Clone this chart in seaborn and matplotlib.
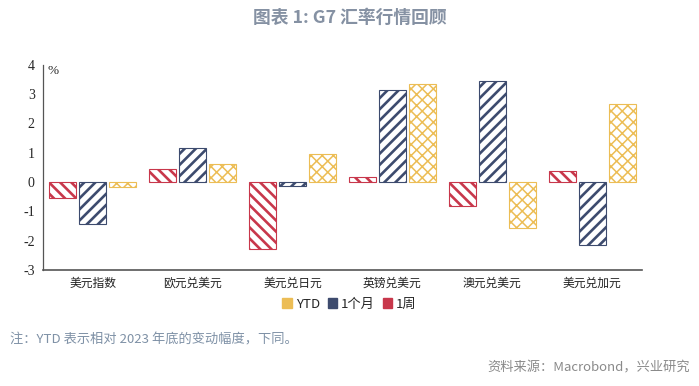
import numpy as np
import pandas as pd
import matplotlib
matplotlib.use("Agg")
import matplotlib.pyplot as plt
from matplotlib.patches import Patch
import seaborn as sns

categories = ["美元指数", "欧元兑美元", "美元兑日元", "英镑兑美元", "澳元兑美元", "美元兑加元"]
week = [-0.53, 0.43, -2.27, 0.18, -0.83, 0.37]
month = [-1.44, 1.17, -0.14, 3.14, 3.46, -2.15]
ytd = [-0.17, 0.60, 0.96, 3.33, -1.55, 2.68]
periods = ["1周", "1个月", "YTD"]
colors = {"1周": "#c8374b", "1个月": "#3d4b6e", "YTD": "#ecbd55"}
hatches = {"1周": "\\\\\\", "1个月": "///", "YTD": "xxx"}

df = pd.DataFrame({
    "cat": categories * 3,
    "period": ["1周"] * 6 + ["1个月"] * 6 + ["YTD"] * 6,
    "value": week + month + ytd,
})

sns.set_style("white")
plt.rcParams["font.family"] = ["Noto Sans CJK SC", "DejaVu Sans"]
plt.rcParams["hatch.linewidth"] = 1.9

fig = plt.figure(figsize=(6.99, 3.86), dpi=100)
ax = fig.add_axes([0.0615, 0.3005, 0.857, 0.5315])

sns.barplot(data=df, x="cat", y="value", hue="period", hue_order=periods,
            palette=colors, width=0.9, gap=0.1, errorbar=None, ax=ax,
            legend=False)

for cont, p in zip(ax.containers, periods):
    for bar in cont:
        bar.set_facecolor("white")
        bar.set_edgecolor(colors[p])
        bar.set_linewidth(0.8)
        bar.set_hatch(hatches[p])
        if p == "YTD" and hasattr(bar, "set_hatch_linewidth"):
            bar.set_hatch_linewidth(1.1)

ax.set_ylim(-3, 4)
ax.set_xlim(-0.5, 5.5)
ax.set_yticks(range(-3, 5))
ax.set_yticklabels([str(v) for v in range(-3, 5)], fontfamily="Liberation Serif", fontsize=10)
ax.set_xticks(range(6))
ax.set_xticklabels(categories, fontsize=8.5, color="#222222")
ax.set_xticks(np.arange(-0.5, 6, 1), minor=True)
ax.tick_params(axis="x", which="major", length=0, pad=5)
ax.tick_params(axis="x", which="minor", length=4, width=1.2, direction="out", color="#333333")
ax.tick_params(axis="y", length=4, width=0.8, direction="out", color="#333333", pad=2)
ax.set_xlabel("")
ax.set_ylabel("")
for s in ["top", "right"]:
    ax.spines[s].set_visible(False)
ax.spines["left"].set_color("#555555")
ax.spines["bottom"].set_color("#555555")
ax.spines["left"].set_linewidth(0.9)
ax.spines["bottom"].set_linewidth(1.2)
ax.text(0.008, 1.0, "%", transform=ax.transAxes, fontsize=9.5, va="top", ha="left",
        fontfamily="Liberation Serif")

handles = [Patch(facecolor=colors[p], edgecolor=colors[p]) for p in periods[::-1]]
fig.legend(handles, periods[::-1], loc="center", bbox_to_anchor=(0.5, 0.212), ncol=3,
           frameon=False, fontsize=9.5, handlelength=0.7, handleheight=0.7,
           handletextpad=0.3, columnspacing=0.6)

fig.text(0.5, 0.953, "图表 1: G7 汇率行情回顾", ha="center", va="center", fontsize=12.8,
         fontweight="bold", color="#8591a3")
fig.text(0.014, 0.12, "注：YTD 表示相对 2023 年底的变动幅度，下同。", ha="left", va="center",
         fontsize=9.5, color="#7f91a6")
fig.text(0.987, 0.047, "资料来源：Macrobond，兴业研究", ha="right", va="center",
         fontsize=9.5, color="#8a8a8a")

fig.savefig("out.png", dpi=100, facecolor="white")
